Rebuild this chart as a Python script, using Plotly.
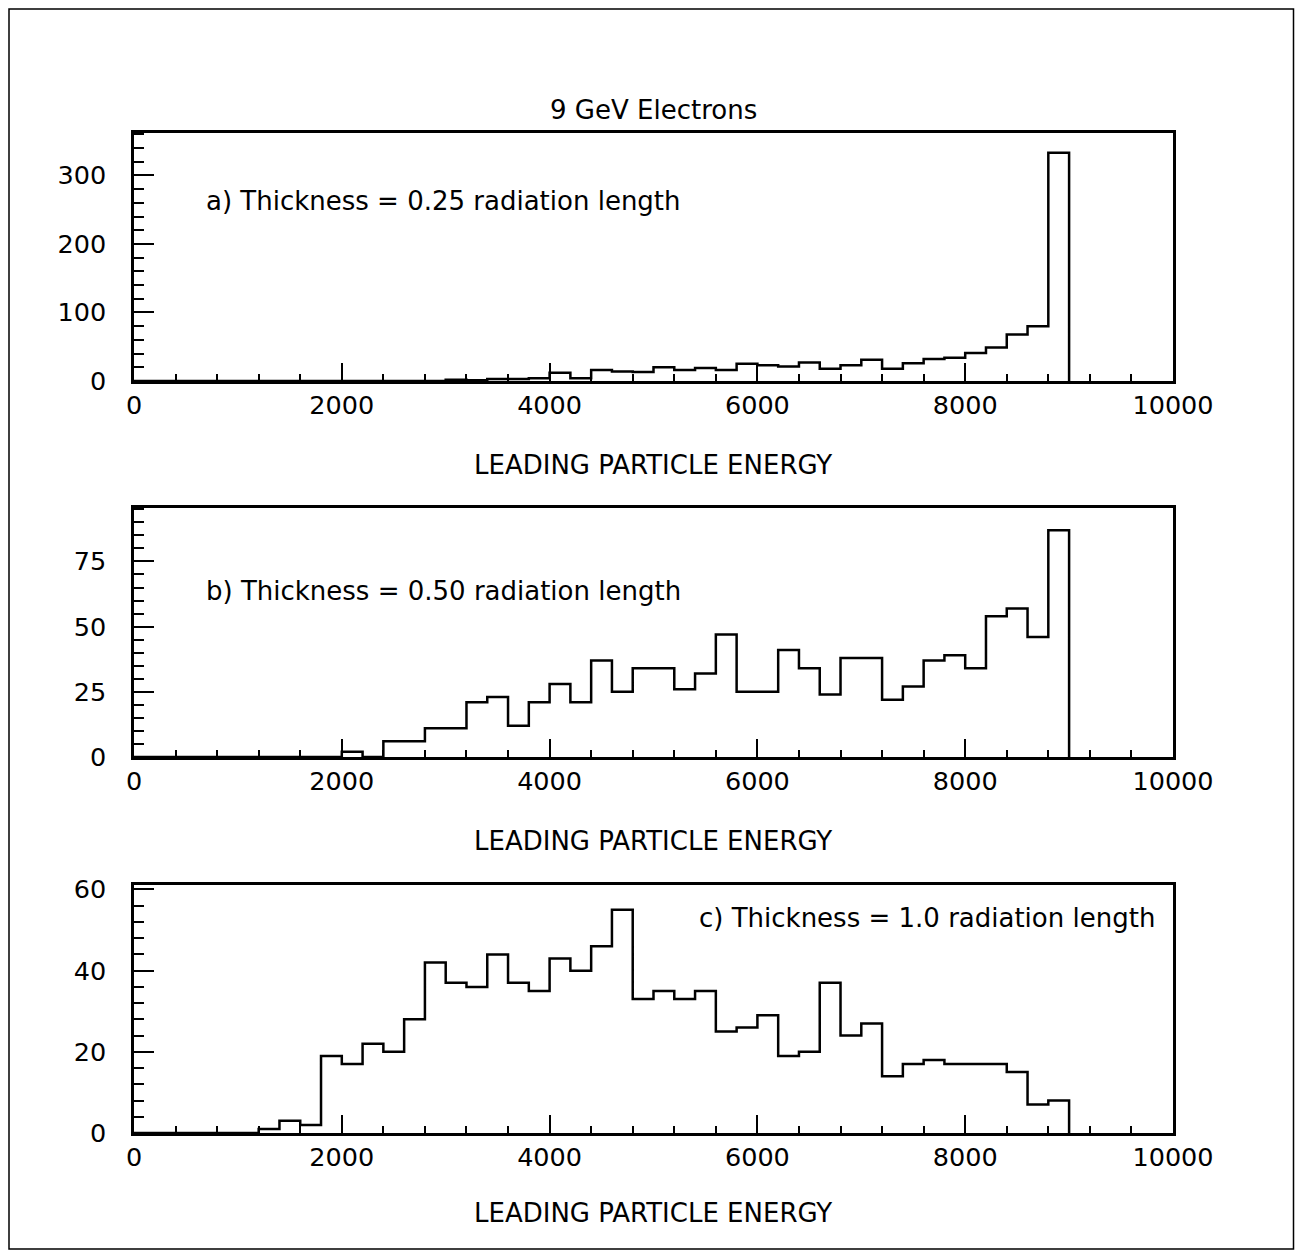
import plotly.graph_objects as go

# ---------------- data ----------------
BIN_WIDTH = 200
BIN_START = list(range(0, 9000, BIN_WIDTH))   # 0 ... 8800 (45 bins)
END_EDGE = 9000

# counts per 200-unit bin, keyed by bin start
counts_a = {3000: 2, 3200: 1, 3400: 3, 3600: 3, 3800: 4, 4000: 12, 4200: 4,
            4400: 16, 4600: 14, 4800: 13, 5000: 20, 5200: 16, 5400: 19,
            5600: 16, 5800: 25, 6000: 23, 6200: 21, 6400: 27, 6600: 18,
            6800: 23, 7000: 31, 7200: 18, 7400: 26, 7600: 32, 7800: 34,
            8000: 41, 8200: 49, 8400: 68, 8600: 80, 8800: 333}
counts_b = {2000: 2, 2200: 0, 2400: 6, 2600: 6, 2800: 11, 3000: 11, 3200: 21,
            3400: 23, 3600: 12, 3800: 21, 4000: 28, 4200: 21, 4400: 37,
            4600: 25, 4800: 34, 5000: 34, 5200: 26, 5400: 32, 5600: 47,
            5800: 25, 6000: 25, 6200: 41, 6400: 34, 6600: 24, 6800: 38,
            7000: 38, 7200: 22, 7400: 27, 7600: 37, 7800: 39, 8000: 34,
            8200: 54, 8400: 57, 8600: 46, 8800: 87}
counts_c = {1200: 1, 1400: 3, 1600: 2, 1800: 19, 2000: 17, 2200: 22, 2400: 20,
            2600: 28, 2800: 42, 3000: 37, 3200: 36, 3400: 44, 3600: 37,
            3800: 35, 4000: 43, 4200: 40, 4400: 46, 4600: 55, 4800: 33,
            5000: 35, 5200: 33, 5400: 35, 5600: 25, 5800: 26, 6000: 29,
            6200: 19, 6400: 20, 6600: 37, 6800: 24, 7000: 27, 7200: 14,
            7400: 17, 7600: 18, 7800: 17, 8000: 17, 8200: 17, 8400: 15,
            8600: 7, 8800: 8}

TITLE = "9 GeV Electrons"
XLABEL = "LEADING PARTICLE ENERGY"
LABEL_A = "a) Thickness = 0.25 radiation length"
LABEL_B = "b) Thickness = 0.50 radiation length"
LABEL_C = "c) Thickness = 1.0 radiation length"
X_TICKS = [0, 2000, 4000, 6000, 8000, 10000]
Y_TICKS_A = [0, 100, 200, 300]
Y_TICKS_B = [0, 25, 50, 75]
Y_TICKS_C = [0, 20, 40, 60]

# ---------------- layout helpers ----------------
OFF = 8                      # page body margin
W, H = 1287, 1242
FONT = "DejaVu Sans"
FS = 26
FS_TICK = 25.5


def px(x):
    return (x - OFF) / W


def py(y):
    return 1 - (y - OFF) / H


def series(counts):
    xs = list(BIN_START) + [END_EDGE]
    ys = [counts.get(s, 0) for s in BIN_START] + [0]
    return xs, ys


fig = go.Figure()

panels = [
    (counts_a, 133, 381, 362, Y_TICKS_A, 20, LABEL_A, (204, 201), "left"),
    (counts_b, 508, 757, 95.5, Y_TICKS_B, 5, LABEL_B, (204, 591), "left"),
    (counts_c, 885, 1133, 61.1, Y_TICKS_C, 4, LABEL_C, (1157, 918), "right"),
]
XL, XR = 134, 1173
title_y = [465, 841, 1213]

for i, (cnt, yt, yb, ymax, yticks, ymin_dt, lab, (lx, ly), lanchor) in enumerate(panels):
    n = "" if i == 0 else str(i + 1)
    xs, ys = series(cnt)
    fig.add_trace(go.Scatter(
        x=xs, y=ys, mode="lines", line=dict(shape="hv", color="black", width=2.5),
        xaxis="x" + n, yaxis="y" + n, showlegend=False, hoverinfo="skip"))
    common = dict(showline=True, linecolor="black", linewidth=2.5, mirror=True,
                  showgrid=False, zeroline=False, ticks="inside", automargin=False,
                  tickcolor="black", tickwidth=1.8,
                  tickfont=dict(family=FONT, size=FS_TICK, color="black"))
    fig.layout["xaxis" + n] = dict(
        common, domain=[px(XL), px(XR)], range=[0, 10000], anchor="y" + n,
        tickmode="array", tickvals=X_TICKS, ticktext=[str(v) for v in X_TICKS],
        ticklen=18, ticklabelstandoff=0,
        minor=dict(ticks="inside", dtick=400, tick0=0, ticklen=7,
                   tickcolor="black", tickwidth=1.5))
    fig.layout["yaxis" + n] = dict(
        common, domain=[py(yb), py(yt)], range=[0, ymax], anchor="x" + n,
        tickmode="array", tickvals=yticks, ticktext=[str(v) for v in yticks],
        ticklen=20, ticklabelstandoff=20,
        minor=dict(ticks="inside", dtick=ymin_dt, tick0=0, ticklen=10,
                   tickcolor="black", tickwidth=1.5))
    fig.add_annotation(x=px(lx), y=py(ly), xref="paper", yref="paper",
                       text=lab, showarrow=False, xanchor=lanchor, yanchor="middle",
                       font=dict(family=FONT, size=FS, color="black"))
    fig.add_annotation(x=px((XL + XR) / 2 - 1), y=py(title_y[i]), xref="paper", yref="paper",
                       text=XLABEL, showarrow=False, xanchor="center", yanchor="middle",
                       font=dict(family=FONT, size=FS, color="black"))

fig.add_annotation(x=px(653), y=py(110), xref="paper", yref="paper", text=TITLE,
                   showarrow=False, xanchor="center", yanchor="middle",
                   font=dict(family=FONT, size=FS, color="black"))

# outer frame around the whole page
fig.add_shape(type="rect", xref="paper", yref="paper",
              x0=px(9), x1=px(1293.5), y0=py(1249), y1=py(9),
              line=dict(color="black", width=1.5))

fig.update_layout(width=W, height=H, margin=dict(l=0, r=0, t=0, b=0, autoexpand=False),
                  paper_bgcolor="white", plot_bgcolor="white",
                  font=dict(family=FONT, size=FS, color="black"))

fig.write_html("out.html")
